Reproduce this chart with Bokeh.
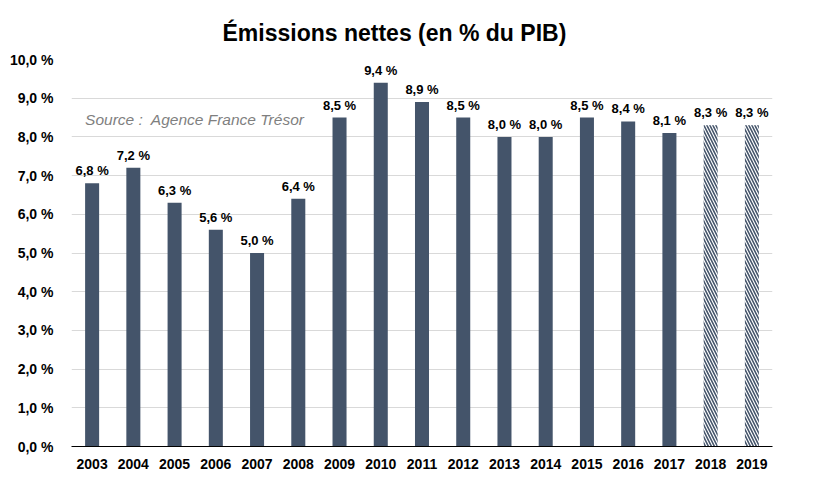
from bokeh.plotting import figure
from bokeh.models import ColumnDataSource, LabelSet, Label, FixedTicker, Range1d
from bokeh.core.properties import value
from bokeh.embed import file_html
from bokeh.resources import INLINE

years = ["2003", "2004", "2005", "2006", "2007", "2008", "2009", "2010", "2011",
         "2012", "2013", "2014", "2015", "2016", "2017", "2018", "2019"]
values = [6.8, 7.2, 6.3, 5.6, 5.0, 6.4, 8.5, 9.4, 8.9, 8.5, 8.0, 8.0, 8.5, 8.4, 8.1, 8.3, 8.3]
forecast = [False] * 15 + [True, True]
y_ticks = [0, 1, 2, 3, 4, 5, 6, 7, 8, 9, 10]
y_tick_labels = ["0,0 %", "1,0 %", "2,0 %", "3,0 %", "4,0 %", "5,0 %", "6,0 %",
                 "7,0 %", "8,0 %", "9,0 %", "10,0 %"]
title_text = "Émissions nettes (en % du PIB)"
source_text = "Source :\u00a0 Agence France Trésor"

FONT = "Liberation Sans"
BAR = "#44546a"

labels = [("%.1f" % v).replace(".", ",") + " %" for v in values]
src_all = ColumnDataSource(dict(x=years, top=values, text=labels))
src_real = ColumnDataSource(dict(x=[y for y, f in zip(years, forecast) if not f],
                                 top=[v for v, f in zip(values, forecast) if not f]))
src_fc = ColumnDataSource(dict(x=[y for y, f in zip(years, forecast) if f],
                               top=[v for v, f in zip(values, forecast) if f]))

p = figure(x_range=years, y_range=Range1d(0, 10), width=808, height=475,
           output_backend="svg", toolbar_location=None,
           min_border_left=71, min_border_right=36, min_border_top=59, min_border_bottom=29)

p.title.text = title_text
p.title.text_font = FONT
p.title.text_font_size = "23px"
p.title.text_font_style = "bold"
p.title.text_color = "#000000"
p.title.align = "left"
p.title.offset = 151
p.title.standoff = 28

p.vbar(x="x", top="top", width=0.34, source=src_real, fill_color=BAR, line_color=None)
p.vbar(x="x", top="top", width=0.34, source=src_fc, fill_color="white", line_color=None,
       hatch_pattern="left_diagonal_line", hatch_color=BAR, hatch_scale=6, hatch_weight=1.6)

p.add_layout(LabelSet(x="x", y="top", text="text", source=src_all, text_align="center",
                      text_baseline="bottom", y_offset=5, text_font=value(FONT),
                      text_font_style="bold", text_font_size="13px", text_color="#000000"))

p.add_layout(Label(x=0.33, y=8.45, text=source_text, text_font=FONT, text_font_style="italic",
                   text_font_size="15.5px", text_color="#7f7f7f", text_baseline="middle"))

p.outline_line_color = None
p.xgrid.grid_line_color = None
p.ygrid.grid_line_color = "#d9d9d9"
p.ygrid.grid_line_width = 1

p.yaxis.ticker = FixedTicker(ticks=y_ticks)
p.yaxis.major_label_overrides = {t: l for t, l in zip(y_ticks, y_tick_labels)}
p.yaxis.axis_line_color = None
p.yaxis.major_tick_line_color = None
p.yaxis.minor_tick_line_color = None
p.yaxis.major_label_text_font = FONT
p.yaxis.major_label_text_font_style = "bold"
p.yaxis.major_label_text_font_size = "14px"
p.yaxis.major_label_text_color = "#000000"
p.yaxis.major_label_standoff = 12

p.xaxis.axis_line_color = "#000000"
p.xaxis.major_tick_line_color = None
p.xaxis.minor_tick_line_color = None
p.xaxis.major_label_text_font = FONT
p.xaxis.major_label_text_font_style = "bold"
p.xaxis.major_label_text_font_size = "14px"
p.xaxis.major_label_text_color = "#000000"
p.xaxis.major_label_standoff = 6

open("out.html", "w").write(file_html(p, INLINE))
